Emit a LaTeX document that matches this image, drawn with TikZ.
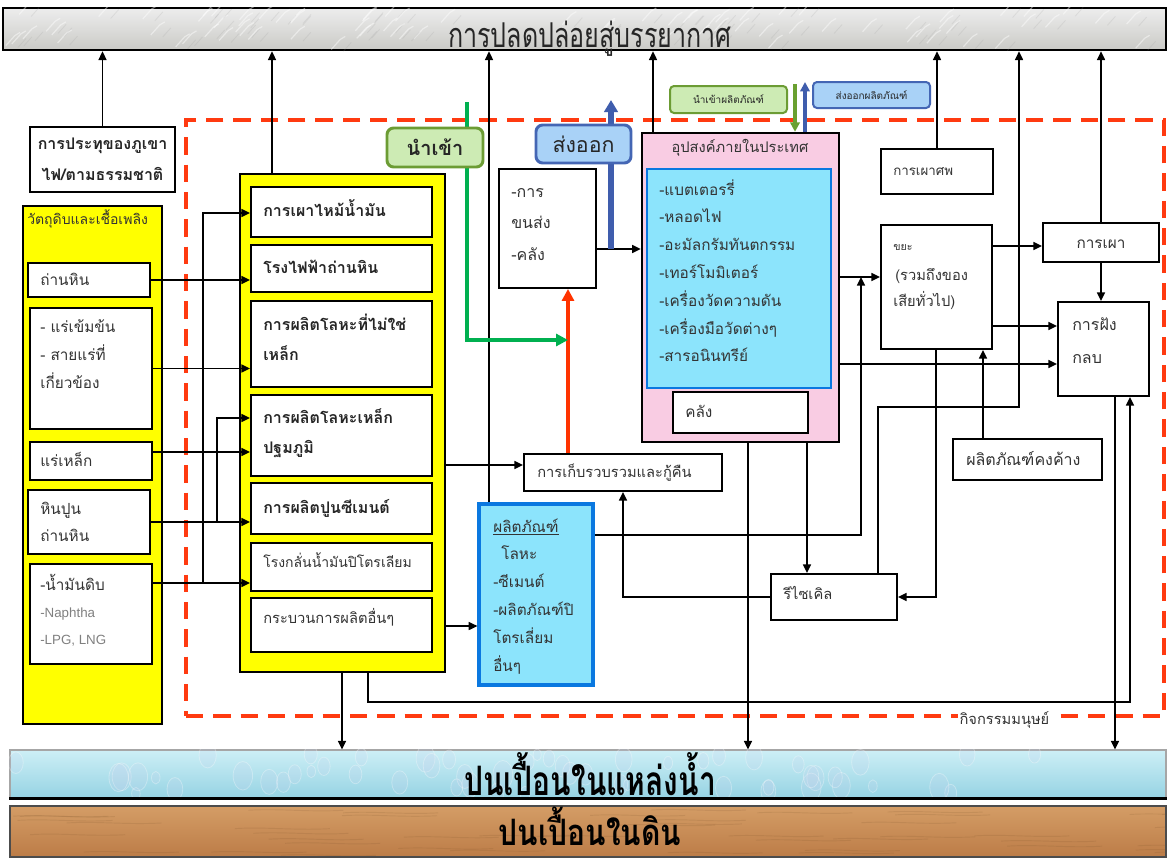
\documentclass[tikz,border=0pt]{standalone}
\usepackage{graphicx}
\usepackage{fontspec}
\setmainfont[Script=Thai]{Loma}
\newfontfamily\latinsans{Liberation Sans}
\usetikzlibrary{arrows.meta,fit,calc}

\definecolor{ylw}{HTML}{FFFF00}
\definecolor{pinkfill}{HTML}{F9CCE3}
\definecolor{cyanfill}{HTML}{8CE4FC}
\definecolor{cyanedge}{HTML}{0A78E0}
\definecolor{dashred}{HTML}{FF3A10}
\definecolor{flowred}{HTML}{FF3300}
\definecolor{flowgreen}{HTML}{00B050}
\definecolor{flowblue}{HTML}{3F5DAD}
\definecolor{smallgreen}{HTML}{6AA030}
\definecolor{tagGfill}{HTML}{CDEBB4}
\definecolor{tagGedge}{HTML}{6C9C34}
\definecolor{tagBfill}{HTML}{A9D2F7}
\definecolor{tagBedge}{HTML}{4466B4}
\definecolor{txt}{HTML}{333333}
\definecolor{airA}{HTML}{EDEDED}
\definecolor{airB}{HTML}{CACAC6}
\definecolor{waterA}{HTML}{CDEFF6}
\definecolor{waterB}{HTML}{96D3E3}
\definecolor{soilA}{HTML}{D49D66}
\definecolor{soilB}{HTML}{BC7C47}

\newcommand\fsz[1]{\fontsize{#1}{#1}\selectfont}

\tikzset{
  x=0.75pt, y=-0.75pt,
  box/.style={rectangle, draw=black, line width=1.4pt, fill=white, inner sep=0pt},
  lbl/.style={anchor=base west, inner sep=0pt, text=txt, font=\fsz{11.5}},
  blbl/.style={lbl, text=black!85, font=\fsz{12}\bfseries},
  conn/.style={line width=1.2pt, draw=black},
  arr/.style={conn, -{Triangle[length=6.5pt,width=6pt]}},
  dashbox/.style={rectangle, draw=dashred, line width=3pt, dash pattern=on 13pt off 7.5pt, inner sep=0pt},
  tag/.style={rectangle, rounded corners=5pt, line width=2.2pt, inner sep=0pt},
  flowG/.style={line width=3.5pt, draw=flowgreen, -{Triangle[length=9pt,width=9pt]}},
  flowR/.style={line width=3.5pt, draw=flowred, -{Triangle[length=9pt,width=9pt]}},
  flowB/.style={line width=4pt, draw=flowblue, -{Triangle[length=9pt,width=10pt]}},
  bigtitle/.style={anchor=base, inner sep=0pt, text=black},
}

% lines of text placed one below another, baseline to baseline
\newcommand\stack[6][]{%
  \foreach \t [count=\i] in {#6}
    \node[lbl,#1] (#2-\i) at ({#3},{#4+(\i-1)*#5}) {\t};}

\begin{document}
\begin{tikzpicture}
\useasboundingbox (0,0) rectangle (1167,858);
\fill[white] (0,0) rectangle (1167,858);

% ---------- human activity frame ----------
\node[dashbox, fit={(186,120) (1164,716)}] (human) {};

% ---------- receiving media ----------
\node[fit={(3,8) (1166,50)}, inner sep=0pt, draw=black, line width=2pt,
      top color=airA, bottom color=airB] (air) {};
\node[fit={(10,750) (1166,798)}, inner sep=0pt, draw=gray!70, line width=0.8pt,
      top color=waterA, bottom color=waterB] (water) {};
\node[fit={(10,806) (1166,857)}, inner sep=0pt, draw=black!70, line width=1pt,
      top color=soilA, bottom color=soilB] (soil) {};

% surface textures: marble veins, water drops, wood grain
\pgfmathsetseed{11}
\begin{scope}
  \clip (air.north west) rectangle (air.south east);
  \foreach \k in {1,...,80}{
    \pgfmathsetmacro\px{5+1160*rnd}\pgfmathsetmacro\py{14+36*rnd}
    \draw[white, opacity=0.45, line width=0.9pt] (\px,\py) -- ++(9,-10) -- ++(5,-3);
    \draw[gray!80, opacity=0.18, line width=0.6pt] (\px+12,\py+2) -- ++(8,-9);}
\end{scope}
\begin{scope}
  \clip (water.north west) rectangle (water.south east);
  \foreach \k in {1,...,55}{
    \pgfmathsetmacro\px{10+1157*rnd}\pgfmathsetmacro\py{754+40*rnd}\pgfmathsetmacro\rr{4+6*rnd}
    \draw[white, opacity=0.3, line width=0.6pt, fill=cyan!40!blue!20, fill opacity=0.18]
      (\px,\py) ellipse ({\rr*0.75pt} and {\rr*1.1pt});}
\end{scope}
\draw[line width=2.5pt] (water.south west) -- (water.south east);
\begin{scope}
  \clip (soil.north west) rectangle (soil.south east);
  \foreach \k in {1,...,45}{
    \pgfmathsetmacro\px{10+1157*rnd}\pgfmathsetmacro\py{810+46*rnd}
    \draw[brown!60!black, opacity=0.14, line width=0.7pt] (\px,\py) .. controls (\px+30,\py-2) and (\px+60,\py+2) .. (\px+95,\py);}
\end{scope}

\node[bigtitle, text=black!85, font=\fsz{19}] (air-t) at (590,47)
  {\scalebox{0.99}[1.35]{การปลดปล่อยสู่บรรยากาศ}};
\node[bigtitle, font=\fsz{21}\bfseries] (water-t) at (590,795)
  {\scalebox{1.07}[1.45]{ปนเปื้อนในแหล่งน้ำ}};
\node[bigtitle, font=\fsz{21}\bfseries] (soil-t) at (590,845)
  {\scalebox{1.07}[1.3]{ปนเปื้อนในดิน}};

% ---------- natural source ----------
\node[box, fit={(30,127) (175,192)}] (volc) {};
\node[align=center, inner sep=0pt, text=black!85, font=\fontsize{12}{23}\selectfont\bfseries]
  (volc-t) at (volc.center) {การประทุของภูเขา\\ไฟ/ตามธรรมชาติ};

% ---------- raw materials and fuels ----------
\node[box, fill=ylw, line width=1.8pt, fit={(23,206) (162,724)}] (raw) {};
\node[lbl, font=\fsz{10.5}] (raw-t) at (27,224) {วัตถุดิบและเชื้อเพลิง};
\node[box, fit={(28,263) (150,297)}] (coal) {};
\node[lbl] (coal-t) at (40,285) {ถ่านหิน};
\node[box, fit={(30,308) (152,429)}] (conc) {};
\stack{conc}{40}{332}{28}{- แร่เข้มข้น, - สายแร่ที่, เกี่ยวข้อง}
\node[box, fit={(30,442) (152,480)}] (iron) {};
\node[lbl] (iron-t) at (40,466) {แร่เหล็ก};
\node[box, fit={(28,490) (150,554)}] (lime) {};
\stack{lime}{40}{514}{27}{หินปูน, ถ่านหิน}
\node[box, fit={(30,564) (152,664)}] (crude) {};
\stack{crude}{40}{590}{27}{-น้ำมันดิบ, {\latinsans\fsz{10}\color{gray}-Naphtha}, {\latinsans\fsz{10}\color{gray}-LPG, LNG}}

% ---------- industrial processes ----------
\node[box, fill=ylw, line width=1.8pt, fit={(240,174) (445,672)}] (mid) {};
\node[box, fit={(251,187) (432,237)}] (p1) {};
\node[blbl] (p1-t) at (263,216) {การเผาไหม้น้ำมัน};
\node[box, fit={(251,245) (432,292)}] (p2) {};
\node[blbl] (p2-t) at (263,273) {โรงไฟฟ้าถ่านหิน};
\node[box, fit={(251,301) (432,387)}] (p3) {};
\stack[blbl]{p3}{263}{330}{30}{การผลิตโลหะที่ไม่ใช่, เหล็ก}
\node[box, fit={(251,395) (432,476)}] (p4) {};
\stack[blbl]{p4}{263}{423}{30}{การผลิตโลหะเหล็ก, ปฐมภูมิ}
\node[box, fit={(251,483) (432,534)}] (p5) {};
\node[blbl] (p5-t) at (263,513) {การผลิตปูนซีเมนต์};
\node[box, fit={(251,543) (432,591)}] (p6) {};
\node[lbl, font=\fsz{10.5}] (p6-t) at (263,567) {โรงกลั่นน้ำมันปิโตรเลียม};
\node[box, fit={(251,598) (432,652)}] (p7) {};
\node[lbl, font=\fsz{11}] (p7-t) at (263,623) {กระบวนการผลิตอื่นๆ};

% ---------- trade, collection and products ----------
\node[box, fit={(499,169) (596,288)}] (trans) {};
\stack[font=\fsz{12}]{trans}{511}{197}{31.5}{-การ, ขนส่ง, -คลัง}
\node[box, fit={(524,454) (722,491)}] (coll) {};
\node[lbl, font=\fsz{11}] (coll-t) at (537,477) {การเก็บรวบรวมและกู้คืน};
\node[box, fill=cyanfill, draw=cyanedge, line width=2.4pt, fit={(479,504) (593,685)}] (prod) {};
\stack[font=\fsz{11.5}]{prod}{493}{532}{27.8}{\underline{ผลิตภัณฑ์}, \hspace*{6pt}โลหะ, -ซีเมนต์, -ผลิตภัณฑ์ปิ, โตรเลี่ยม, อื่นๆ}

% ---------- domestic demand ----------
\node[box, fill=pinkfill, line width=1.8pt, fit={(642,133) (839,442)}] (dom) {};
\node[anchor=base, inner sep=0pt, text=txt, font=\fsz{11}] (dom-t) at (740,152) {อุปสงค์ภายในประเทศ};
\node[box, fill=cyanfill, draw=cyanedge, line width=2pt, fit={(647,169) (831,388)}] (lst) {};
\stack[font=\fsz{11.5}]{lst}{659}{195}{27.8}{-แบตเตอรรี่, -หลอดไฟ, -อะมัลกรัมทันตกรรม, -เทอร์โมมิเตอร์, -เครื่องวัดความดัน, -เครื่องมือวัดต่างๆ, -สารอนินทรีย์}
\node[box, fit={(673,392) (808,433)}] (store) {};
\node[lbl, font=\fsz{11.5}] (store-t) at (685,417) {คลัง};

% ---------- end of life ----------
\node[box, fit={(881,149) (993,194)}] (crem) {};
\node[lbl, font=\fsz{10}] (crem-t) at (893,175) {การเผาศพ};
\node[box, fit={(881,225) (992,349)}] (waste) {};
\node[lbl, font=\fsz{8}] (waste-t1) at (893,250) {ขยะ};
\node[lbl, font=\fsz{11}] (waste-t2) at (895,280) {(รวมถึงของ};
\node[lbl, font=\fsz{11}] (waste-t3) at (893,306) {เสียทั่วไป)};
\node[box, fit={(1043,223) (1159,262)}] (inc) {};
\node[anchor=base, inner sep=0pt, text=txt, font=\fsz{11.5}] (inc-t) at (1101,248) {การเผา};
\node[box, fit={(1058,302) (1149,396)}] (land) {};
\stack[font=\fsz{12}]{land}{1072}{330}{33}{การฝัง, กลบ}
\node[box, fit={(953,439) (1102,480)}] (resid) {};
\node[lbl, font=\fsz{12}, text=black!80] (resid-t) at (966,465) {ผลิตภัณฑ์คงค้าง};
\node[box, fit={(771,574) (897,620)}] (recyc) {};
\node[lbl, font=\fsz{11}] (recyc-t) at (783,599) {รีไซเคิล};

\node[lbl, font=\fsz{11}, fill=white, inner sep=1pt] (human-t) at (958,724) {กิจกรรมมนุษย์};

% ---------- guide lines for connector routing ----------
\foreach \v in {203,217,272,342,368,467,489,568,611,623,653,748,795,805,807,861,878,936,983,1019,1101,1115,1130}
  \coordinate (x\v) at (\v,0);
\foreach \v in {82,84,100,102,213,246,249,277,326,340,364,407,418,452,465,535,583,597,626,702}
  \coordinate (y\v) at (0,\v);

% raw materials into processes
\draw[arr] (coal.east) -- (coal.east -| p2.west);
\draw[arr] (conc.east) -- (conc.east -| p3.west);
\draw[arr] (iron.east |- y452) -- (p4.west |- y452);
\draw[arr] (lime.east) -- (lime.east -| p5.west);
\draw[arr] (crude.east |- y583) -- (p6.west |- y583);
\draw[arr] (x203 |- y583) -- (x203 |- y213) -- (p1.west |- y213);
\draw[arr] (x217 |- lime.east) -- (x217 |- y418) -- (p4.west |- y418);

% emissions to air
\draw[arr] (volc.north) -- (air.south -| volc.north);
\draw[arr] (mid.north -| x272) -- (air.south -| x272);
\draw[arr] (prod.north -| x489) -- (air.south -| x489);
\draw[arr] (dom.north -| x653) -- (air.south -| x653);
\draw[arr] (crem.north) -- (air.south -| crem.north);
\draw[arr] (inc.north) -- (air.south -| inc.north);
\draw[arr] (recyc.north -| x878) -- (x878 |- y407) -- (x1019 |- y407) -- (air.south -| x1019);

% process outputs
\draw[arr] (mid.east |- y465) -- (coll.west |- y465);
\draw[arr] (mid.east |- y626) -- (prod.west |- y626);
\draw[arr] (mid.south -| x342) -- (water.north -| x342);
\draw[arr] (mid.south -| x368) -- (x368 |- y702) -- (x1130 |- y702) -- (land.south -| x1130);
\draw[arr] (prod.east |- y535) -- (x861 |- y535) -- (x861 |- y277);

% trade and demand
\draw[arr] (trans.east |- y249) -- (dom.west |- y249);
\draw[flowB] (x611 |- y249) -- (x611 |- y100);
\draw[flowR] (coll.north -| x568) -- (trans.south -| x568);
\draw[flowG] (x467 |- y102) -- (x467 |- y340) -- (x568 |- y340);
\draw[line width=3pt, draw=smallgreen, -{Triangle[length=7pt,width=7pt]}] (x795 |- y84) -- (dom.north -| x795);
\draw[line width=3pt, draw=flowblue, -{Triangle[length=7pt,width=7pt]}] (dom.north -| x805) -- (x805 |- y82);
\draw[arr] (dom.east |- y277) -- (waste.west |- y277);
\draw[arr] (dom.east |- y364) -- (land.west |- y364);
\draw[arr] (dom.south -| x748) -- (water.north -| x748);
\draw[arr] (dom.south -| x807) -- (recyc.north -| x807);

% waste handling
\draw[arr] (waste.east |- y246) -- (inc.west |- y246);
\draw[arr] (waste.east |- y326) -- (land.west |- y326);
\draw[arr] (waste.south -| x936) -- (x936 |- y597) -- (recyc.east |- y597);
\draw[arr] (resid.north -| x983) -- (waste.south -| x983);
\draw[arr] (inc.south) -- (land.north -| inc.south);
\draw[arr] (recyc.west |- y597) -- (x623 |- y597) -- (coll.south -| x623);
\draw[arr] (land.south -| x1115) -- (water.north -| x1115);

% ---------- trade tags ----------
\node[tag, draw=tagGedge, fill=tagGfill, fit={(387,128) (483,167)}] (imp) {};
\node[inner sep=0pt, text=black!85, font=\fsz{15}\bfseries] (imp-t) at (imp.center) {นำเข้า};
\node[tag, draw=tagBedge, fill=tagBfill, fit={(536,125) (631,163)}] (exp) {};
\node[inner sep=0pt, text=black!85, font=\fsz{16}] (exp-t) at (exp.center) {ส่งออก};
\node[tag, rounded corners=3pt, line width=1.5pt, draw=tagGedge, fill=tagGfill, fit={(670,86) (787,113)}] (impp) {};
\node[inner sep=0pt, text=black!85, font=\fsz{7.5}] (impp-t) at (impp.center) {นำเข้าผลิตภัณฑ์};
\node[tag, rounded corners=3pt, line width=1.5pt, draw=tagBedge, fill=tagBfill, fit={(813,82) (930,108)}] (expp) {};
\node[inner sep=0pt, text=black!85, font=\fsz{7.5}] (expp-t) at (expp.center) {ส่งออกผลิตภัณฑ์};
\end{tikzpicture}
\end{document}
